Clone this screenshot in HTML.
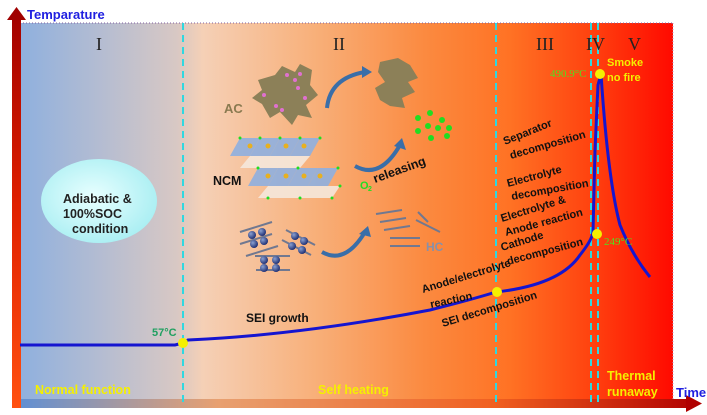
<!DOCTYPE html>
<html><head><meta charset="utf-8"><style>
body{margin:0;width:707px;height:415px;overflow:hidden;background:#fff}
svg{display:block}
text{font-family:"Liberation Sans",sans-serif;font-weight:bold}
</style></head><body>
<svg width="707" height="415" viewBox="0 0 707 415" xmlns="http://www.w3.org/2000/svg">
<defs>
<linearGradient id="bg" x1="20" x2="673" y1="0" y2="0" gradientUnits="userSpaceOnUse">
<stop offset="0" stop-color="#8fb0de"/><stop offset="0.12" stop-color="#b3bcd2"/><stop offset="0.24" stop-color="#d8c8c4"/><stop offset="0.28" stop-color="#f5d0b6"/><stop offset="0.45" stop-color="#f8b07a"/><stop offset="0.62" stop-color="#fb8a40"/><stop offset="0.75" stop-color="#ff7224"/><stop offset="0.87" stop-color="#ff4410"/><stop offset="1" stop-color="#ff0a00"/>
</linearGradient>
<linearGradient id="xa" x1="12" x2="700" y1="0" y2="0" gradientUnits="userSpaceOnUse">
<stop offset="0" stop-color="#5c8fd6"/><stop offset="0.3" stop-color="#e8a070"/><stop offset="0.7" stop-color="#f06020"/><stop offset="1" stop-color="#b00000"/>
</linearGradient>
<linearGradient id="ya" x1="0" x2="0" y1="405" y2="8" gradientUnits="userSpaceOnUse">
<stop offset="0" stop-color="#ff5010"/><stop offset="0.5" stop-color="#e02000"/><stop offset="1" stop-color="#a00000"/>
</linearGradient>
<radialGradient id="el" cx="0.45" cy="0.45" r="0.6"><stop offset="0" stop-color="#e8ffff"/><stop offset="1" stop-color="#a8eef2"/></radialGradient>
<radialGradient id="ball" cx="0.35" cy="0.35" r="0.7"><stop offset="0" stop-color="#8aa0d0"/><stop offset="1" stop-color="#1a2a70"/></radialGradient>
</defs>
<rect x="20" y="23" width="653" height="377" fill="url(#bg)"/>
<line x1="20" y1="23" x2="673" y2="23" stroke="#8060a0" stroke-dasharray="1,2" stroke-width="1"/>
<line x1="673" y1="23" x2="673" y2="400" stroke="#c0a0c0" stroke-dasharray="1,2" stroke-width="1"/>
<!-- axes -->
<rect x="12" y="399" width="676" height="9" fill="url(#xa)"/>
<polygon points="686,395 702,403.5 686,412" fill="#b00000"/>
<rect x="12" y="18" width="9" height="390" fill="url(#ya)"/>
<polygon points="7,20 16.5,7 26,20" fill="#a00000"/>
<text x="27" y="19" font-size="13" fill="#2020e0">Temparature</text>
<text x="676" y="397" font-size="13" fill="#2020e0">Time</text>
<!-- dashed lines -->
<g stroke="#30d8e0" stroke-width="2" stroke-dasharray="7,5">
<line x1="183" y1="23" x2="183" y2="402"/><line x1="496" y1="23" x2="496" y2="402"/>
<line x1="591" y1="23" x2="591" y2="402"/><line x1="598" y1="23" x2="598" y2="402"/>
</g>
<g font-family="Liberation Serif,serif" font-size="18" fill="#222" font-weight="normal">
<text x="96" y="50" style="font-weight:normal;font-family:'Liberation Serif',serif">I</text>
<text x="333" y="50" style="font-weight:normal;font-family:'Liberation Serif',serif">II</text>
<text x="536" y="50" style="font-weight:normal;font-family:'Liberation Serif',serif">III</text>
<text x="586" y="50" style="font-weight:normal;font-family:'Liberation Serif',serif">IV</text>
<text x="628" y="50" style="font-weight:normal;font-family:'Liberation Serif',serif">V</text>
</g>
<ellipse cx="99" cy="201" rx="58" ry="42" fill="url(#el)"/>
<text x="63" y="203" font-size="12.5" fill="#222">Adiabatic &amp;</text>
<text x="63" y="218" font-size="12.5" fill="#222">100%SOC</text>
<text x="72" y="233" font-size="12.5" fill="#222">condition</text>
<!-- AC shapes -->
<text x="224" y="113" font-size="13" fill="#8a7a50">AC</text>
<path d="M258,80 L275,75 L282,66 L295,72 L300,64 L312,70 L310,85 L318,95 L306,105 L312,118 L298,115 L292,125 L280,112 L270,118 L262,104 L252,98 L262,90 Z" fill="#8c8058"/>
<g fill="#e070d0"><circle cx="287" cy="75" r="2"/><circle cx="295" cy="80" r="2"/><circle cx="300" cy="74" r="2"/><circle cx="298" cy="88" r="2"/><circle cx="264" cy="95" r="2"/><circle cx="282" cy="110" r="2"/><circle cx="276" cy="106" r="2"/><circle cx="305" cy="98" r="2"/></g>
<path d="M380,62 L398,58 L410,65 L418,78 L408,82 L415,92 L402,98 L405,108 L390,106 L380,100 L375,88 L385,82 L378,72 Z" fill="#8c8058"/>
<path d="M327,108 Q330,78 365,72" stroke="#3a6ea8" stroke-width="4" fill="none"/><polygon points="362,66 372,72 362,78" fill="#3a6ea8"/>
<g fill="#22dd22"><circle cx="418" cy="118" r="3"/><circle cx="430" cy="113" r="3"/><circle cx="442" cy="120" r="3"/><circle cx="428" cy="126" r="3"/><circle cx="438" cy="128" r="3"/><circle cx="449" cy="128" r="3"/><circle cx="418" cy="131" r="3"/><circle cx="431" cy="138" r="3"/><circle cx="447" cy="136" r="3"/></g>
<!-- NCM -->
<text x="213" y="185" font-size="12.5" fill="#111">NCM</text>
<g fill="#8fb0e0" opacity="0.9">
<polygon points="240,138 260,138 250,156 230,156"/><polygon points="260,138 280,138 270,156 250,156"/><polygon points="280,138 300,138 290,156 270,156"/><polygon points="300,138 320,138 310,156 290,156"/>
<polygon points="258,168 278,168 268,186 248,186"/><polygon points="278,168 298,168 288,186 268,186"/><polygon points="298,168 318,168 308,186 288,186"/><polygon points="318,168 338,168 328,186 308,186"/>
</g>
<g fill="#f5e8dc" opacity="0.9">
<polygon points="250,156 310,156 300,168 240,168"/><polygon points="268,186 340,186 332,198 258,198"/>
</g>
<g fill="#22dd22"><circle cx="240" cy="138" r="1.5"/><circle cx="260" cy="138" r="1.5"/><circle cx="280" cy="138" r="1.5"/><circle cx="300" cy="138" r="1.5"/><circle cx="320" cy="138" r="1.5"/><circle cx="258" cy="168" r="1.5"/><circle cx="298" cy="168" r="1.5"/><circle cx="338" cy="168" r="1.5"/><circle cx="268" cy="198" r="1.5"/><circle cx="300" cy="198" r="1.5"/><circle cx="332" cy="198" r="1.5"/><circle cx="340" cy="186" r="1.5"/></g>
<g fill="#e8b020"><circle cx="250" cy="146" r="2.5"/><circle cx="268" cy="146" r="2.5"/><circle cx="286" cy="146" r="2.5"/><circle cx="304" cy="146" r="2.5"/><circle cx="268" cy="176" r="2.5"/><circle cx="286" cy="176" r="2.5"/><circle cx="304" cy="176" r="2.5"/><circle cx="320" cy="176" r="2.5"/></g>
<path d="M355,166 Q380,180 400,145" stroke="#3a6ea8" stroke-width="4" fill="none"/><polygon points="394,146 402,138 406,150" fill="#3a6ea8"/>
<text x="360" y="189" font-size="11" fill="#22dd22">O</text><text x="368" y="191" font-size="7" fill="#22dd22">2</text>
<text x="375" y="183" font-size="12.5" fill="#111" transform="rotate(-20 375 183)">releasing</text>
<!-- HC -->
<g stroke="#707890" stroke-width="2">
<line x1="240" y1="232" x2="272" y2="222"/><line x1="240" y1="244" x2="272" y2="234"/><line x1="246" y1="256" x2="278" y2="246"/>
<line x1="286" y1="230" x2="315" y2="245"/><line x1="282" y1="240" x2="311" y2="255"/>
<line x1="255" y1="256" x2="290" y2="256"/><line x1="256" y1="270" x2="290" y2="270"/>
<line x1="376" y1="214" x2="402" y2="210"/><line x1="380" y1="222" x2="406" y2="218"/><line x1="384" y1="230" x2="410" y2="226"/>
<line x1="418" y1="212" x2="428" y2="222"/><line x1="416" y1="220" x2="440" y2="232"/>
<line x1="390" y1="238" x2="420" y2="238"/><line x1="390" y1="246" x2="420" y2="246"/>
</g>
<g fill="url(#ball)"><circle cx="252" cy="235" r="4"/><circle cx="262" cy="232" r="4"/><circle cx="254" cy="244" r="4"/><circle cx="264" cy="241" r="4"/><circle cx="295" cy="236" r="4"/><circle cx="304" cy="241" r="4"/><circle cx="292" cy="246" r="4"/><circle cx="302" cy="250" r="4"/><circle cx="264" cy="260" r="4"/><circle cx="276" cy="260" r="4"/><circle cx="264" cy="268" r="4"/><circle cx="276" cy="268" r="4"/></g>
<path d="M322,252 Q345,265 365,232" stroke="#3a6ea8" stroke-width="4" fill="none"/><polygon points="359,234 368,226 371,237" fill="#3a6ea8"/>
<text x="426" y="251" font-size="12" fill="#8890a8">HC</text>
<!-- curve -->
<path d="M20,345 L175,345 L183,343 L188,340 Q300,335 430,310 Q470,300 496,292 Q560,285 580,255 Q592,240 593,232 L595,150 L598,85 L601,74 Q608,180 620,225 Q632,255 650,277" stroke="#1515d0" stroke-width="3" fill="none"/>
<g fill="#f5f000"><circle cx="183" cy="343" r="5"/><circle cx="497" cy="292" r="5"/><circle cx="597" cy="234" r="5"/><circle cx="600" cy="74" r="5"/></g>
<text x="152" y="336" font-size="11" fill="#20a060">57°C</text>
<text x="550" y="77" font-size="11" fill="#50e020" style="font-weight:normal;font-family:'Liberation Serif',serif">490.9°C</text>
<text x="604" y="245" font-size="11" fill="#50e020" style="font-weight:normal;font-family:'Liberation Serif',serif">249°C</text>
<text x="607" y="66" font-size="11" fill="#f5f000">Smoke</text>
<text x="607" y="81" font-size="11" fill="#f5f000">no fire</text>
<text x="246" y="322" font-size="12" fill="#111">SEI growth</text>
<g font-size="11" fill="#111">
<text transform="translate(423,293) rotate(-17)">Anode/electrolyte</text>
<text transform="translate(431,308) rotate(-12)">reaction</text>
<text transform="translate(443,327) rotate(-17)">SEI decomposition</text>
<text transform="translate(505,145) rotate(-22)">Separator</text>
<text transform="translate(511,159) rotate(-16)">decomposition</text>
<text transform="translate(508,187) rotate(-15)">Electrolyte</text>
<text transform="translate(512,200) rotate(-10)">decomposition</text>
<text transform="translate(502,222) rotate(-17)">Electrolyte &amp;</text>
<text transform="translate(506,236) rotate(-15)">Anode reaction</text>
<text transform="translate(502,251) rotate(-17)">Cathode</text>
<text transform="translate(508,265) rotate(-15)">decomposition</text>
</g>
<text x="35" y="394" font-size="12.5" fill="#f5f000">Normal function</text>
<text x="318" y="394" font-size="12.5" fill="#f5f000">Self heating</text>
<text x="607" y="380" font-size="12.5" fill="#f5f000">Thermal</text>
<text x="607" y="396" font-size="12.5" fill="#f5f000">runaway</text>
</svg>
</body></html>
